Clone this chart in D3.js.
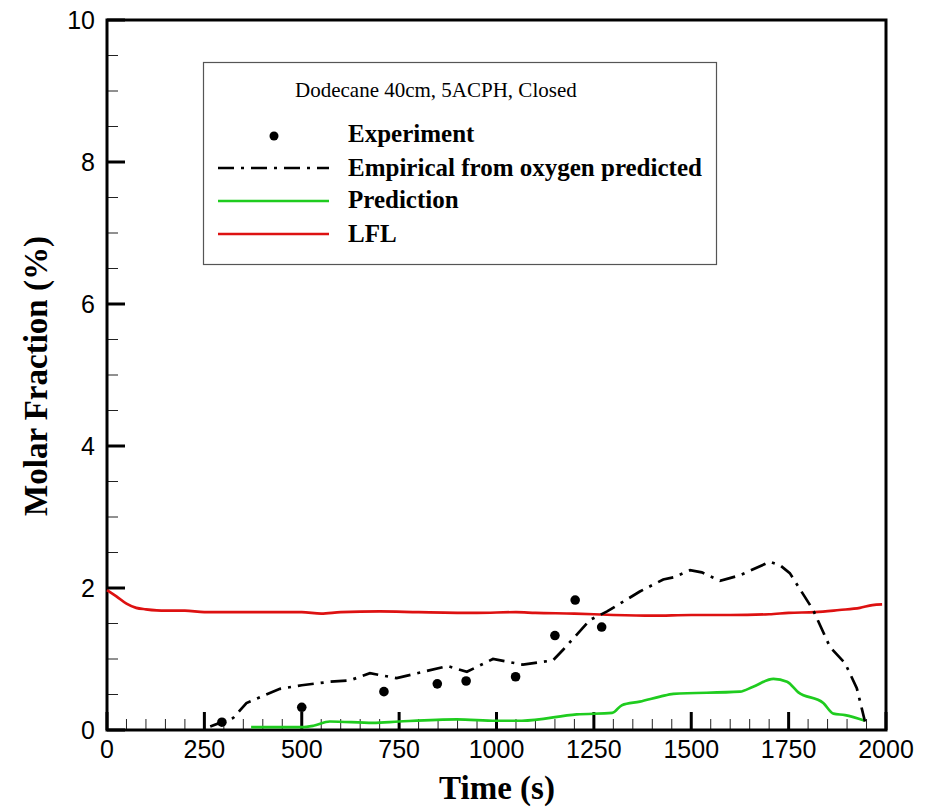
<!DOCTYPE html>
<html><head><meta charset="utf-8">
<script src="https://cdn.jsdelivr.net/npm/d3@7"></script>
<style>body{margin:0;background:#fff}</style>
</head><body>
<svg id="chart" width="931" height="807"></svg>
<script>
// ---- data ----
const xTicks = [0, 250, 500, 750, 1000, 1250, 1500, 1750, 2000];
const yTicks = [0, 2, 4, 6, 8, 10];
const seriesNames = ["Experiment", "Empirical from oxygen predicted", "Prediction", "LFL"];
const legendTitle = "Dodecane 40cm, 5ACPH, Closed";

const experiment = [
  [295, 0.11], [500, 0.32], [711, 0.54], [848, 0.65], [922, 0.69],
  [1049, 0.75], [1150, 1.33], [1202, 1.83], [1270, 1.45]
];
const empirical = [
  [265, 0.05], [324, 0.17], [358, 0.38], [444, 0.58], [500, 0.63], [573, 0.68],
  [624, 0.70], [675, 0.80], [744, 0.73], [804, 0.81], [875, 0.90], [924, 0.82],
  [991, 1.00], [1068, 0.92], [1145, 0.98], [1171, 1.13], [1240, 1.55], [1284, 1.67],
  [1368, 1.95], [1428, 2.12], [1454, 2.15], [1497, 2.25], [1527, 2.22], [1574, 2.10],
  [1625, 2.18], [1702, 2.37], [1728, 2.32], [1753, 2.21], [1813, 1.69], [1856, 1.17],
  [1895, 0.94], [1925, 0.59], [1946, 0.12]
];
const prediction = [
  [370, 0.04], [500, 0.04], [530, 0.06], [572, 0.12], [683, 0.10], [750, 0.12],
  [898, 0.15], [1000, 0.13], [1065, 0.13], [1206, 0.22], [1297, 0.24], [1322, 0.35],
  [1368, 0.40], [1420, 0.47], [1454, 0.51], [1625, 0.54], [1659, 0.61], [1711, 0.72],
  [1746, 0.68], [1775, 0.53], [1839, 0.38], [1865, 0.23], [1895, 0.21], [1946, 0.13]
];
const lfl = [
  [0, 1.97], [25, 1.88], [50, 1.78], [75, 1.72], [100, 1.70], [150, 1.68], [200, 1.68],
  [250, 1.66], [400, 1.66], [500, 1.66], [550, 1.64], [600, 1.66], [700, 1.67],
  [800, 1.66], [950, 1.65], [1050, 1.66], [1100, 1.65], [1200, 1.64], [1300, 1.62],
  [1400, 1.61], [1500, 1.62], [1600, 1.62], [1700, 1.63], [1750, 1.65], [1818, 1.66],
  [1880, 1.69], [1933, 1.72], [1965, 1.76], [1990, 1.77]
];

// ---- layout ----
const svg = d3.select("#chart");
const L = 107, R = 886, T = 20, B = 730;
const x = d3.scaleLinear().domain([0, 2000]).range([L, R]);
const y = d3.scaleLinear().domain([0, 10]).range([B, T]);
const sans = "'Liberation Sans', Arial, sans-serif";
const serif = "'Liberation Serif', 'Times New Roman', serif";

// minor ticks
const xMinor = d3.range(0, 2001, 50).filter(v => v % 250 !== 0);
const yMinor = d3.range(0, 10.01, 0.5).filter(v => Math.abs(v - Math.round(v / 2) * 2) > 1e-6);

const g = svg.append("g");
g.selectAll(".xm").data(xMinor).join("line")
  .attr("x1", d => x(d)).attr("x2", d => x(d)).attr("y1", B).attr("y2", B - 11)
  .attr("stroke", "#222").attr("stroke-width", 1);
g.selectAll(".xM").data(xTicks).join("line")
  .attr("x1", d => x(d)).attr("x2", d => x(d)).attr("y1", B).attr("y2", B - 18)
  .attr("stroke", "#000").attr("stroke-width", 3);
g.selectAll(".ym").data(yMinor).join("line")
  .attr("y1", d => y(d)).attr("y2", d => y(d)).attr("x1", L).attr("x2", L + 11)
  .attr("stroke", "#222").attr("stroke-width", 1);
g.selectAll(".yM").data(yTicks).join("line")
  .attr("y1", d => y(d)).attr("y2", d => y(d)).attr("x1", L).attr("x2", L + 18)
  .attr("stroke", "#000").attr("stroke-width", 3);

// tick labels
g.selectAll(".xl").data(xTicks).join("text")
  .attr("x", d => x(d)).attr("y", 758).attr("text-anchor", "middle")
  .attr("font-family", sans).attr("font-size", 25).text(d => d);
g.selectAll(".yl").data(yTicks).join("text")
  .attr("x", 95).attr("y", d => y(d)).attr("dy", "0.35em").attr("text-anchor", "end")
  .attr("font-family", sans).attr("font-size", 25).text(d => d);

// frame
svg.append("rect").attr("x", L).attr("y", T).attr("width", R - L).attr("height", B - T)
  .attr("fill", "none").attr("stroke", "#000").attr("stroke-width", 3);

// axis titles
svg.append("text").attr("x", 497).attr("y", 799).attr("text-anchor", "middle")
  .attr("font-family", serif).attr("font-weight", "bold").attr("font-size", 33).text("Time (s)");
svg.append("text").attr("transform", `translate(47,376) rotate(-90)`)
  .attr("text-anchor", "middle")
  .attr("font-family", serif).attr("font-weight", "bold").attr("font-size", 33).text("Molar Fraction (%)");

// lines
const line = d3.line().x(d => x(d[0])).y(d => y(d[1])).curve(d3.curveMonotoneX);
const dash = "16,7,3,7";
svg.append("path").datum(lfl).attr("d", line).attr("fill", "none")
  .attr("stroke", "#dd1111").attr("stroke-width", 2.7);
svg.append("path").datum(prediction).attr("d", line).attr("fill", "none")
  .attr("stroke", "#1fcc1f").attr("stroke-width", 2.7);
svg.append("path").datum(empirical).attr("d", d3.line().x(d => x(d[0])).y(d => y(d[1]))).attr("fill", "none")
  .attr("stroke", "#000").attr("stroke-width", 2.7).attr("stroke-dasharray", dash);
svg.selectAll(".pt").data(experiment).join("circle")
  .attr("cx", d => x(d[0])).attr("cy", d => y(d[1])).attr("r", 4.8).attr("fill", "#000");

// legend
const lg = svg.append("g");
lg.append("rect").attr("x", 203.5).attr("y", 62.5).attr("width", 513).attr("height", 202)
  .attr("fill", "#fff").attr("stroke", "#555").attr("stroke-width", 1.2);
lg.append("text").attr("x", 295).attr("y", 97).attr("font-family", serif).attr("font-size", 21)
  .text(legendTitle);
const rowY = [136, 168, 201, 234];
const baseY = [142, 176, 208, 242];
lg.append("circle").attr("cx", 274).attr("cy", rowY[0]).attr("r", 4.5).attr("fill", "#000");
lg.append("line").attr("x1", 218).attr("x2", 329).attr("y1", rowY[1]).attr("y2", rowY[1])
  .attr("stroke", "#000").attr("stroke-width", 2.7).attr("stroke-dasharray", dash);
lg.append("line").attr("x1", 218).attr("x2", 329).attr("y1", rowY[2]).attr("y2", rowY[2])
  .attr("stroke", "#1fcc1f").attr("stroke-width", 2.7);
lg.append("line").attr("x1", 218).attr("x2", 329).attr("y1", rowY[3]).attr("y2", rowY[3])
  .attr("stroke", "#dd1111").attr("stroke-width", 2.7);
seriesNames.forEach((n, i) => {
  lg.append("text").attr("x", 348).attr("y", baseY[i]).attr("font-family", serif)
    .attr("font-weight", "bold").attr("font-size", 25).text(n);
});
</script>
</body></html>
